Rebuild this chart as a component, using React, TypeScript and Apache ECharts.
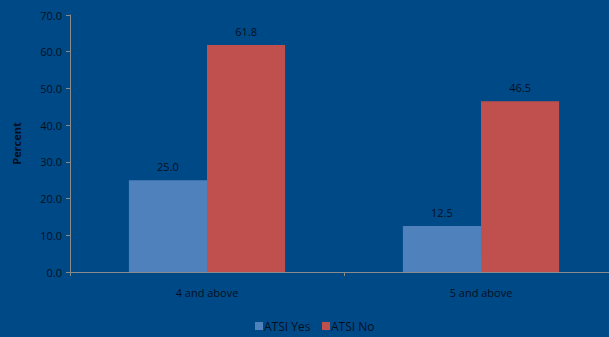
import React, { useEffect, useRef } from "react";
import * as echarts from "echarts";

const categories = ["4 and above", "5 and above"];
const atsiYes = [25.0, 12.5];
const atsiNo = [61.8, 46.5];
const seriesNames = ["ATSI Yes", "ATSI No"];

export default function App() {
  const ref = useRef<HTMLDivElement>(null);
  useEffect(() => {
    const chart = echarts.init(ref.current!, undefined, { renderer: "svg" });
    const font = "Open Sans";
    const txt = "#05101e";
    const legendBase = {
      top: 320,
      padding: 0,
      itemWidth: 8,
      itemHeight: 8,
      icon: "rect",
      textStyle: { color: txt, fontSize: 12, fontFamily: font, padding: [0, 0, 0, -4] },
    };
    chart.setOption({
      animation: false,
      backgroundColor: "#004987",
      textStyle: { fontFamily: font },
      grid: { left: 70, top: 15, width: 548, height: 257, outerBoundsMode: "none", containLabel: false },
      legend: [
        { ...legendBase, left: 255, data: [seriesNames[0]] },
        { ...legendBase, left: 322, data: [seriesNames[1]] },
      ],
      xAxis: {
        type: "category",
        data: categories,
        axisLine: { lineStyle: { color: "#8a8a8a" } },
        axisTick: { show: true, alignWithLabel: false, lineStyle: { color: "#8a8a8a" }, length: 4 },
        axisLabel: { color: txt, fontSize: 11, margin: 15, fontFamily: font },
      },
      yAxis: {
        type: "value",
        min: 0,
        max: 70,
        interval: 10,
        name: "Percent",
        nameLocation: "middle",
        nameGap: 48,
        nameRotate: 90,
        nameTextStyle: { color: txt, fontSize: 11, fontWeight: "bold", fontFamily: font },
        axisLine: { show: true, lineStyle: { color: "#8a8a8a" } },
        axisTick: { show: true, length: 4, lineStyle: { color: "#8a8a8a" } },
        splitLine: { show: false },
        axisLabel: {
          color: txt,
          fontSize: 11,
          fontFamily: font,
          margin: 8,
          formatter: (v: number) => v.toFixed(1),
        },
      },
      series: [
        {
          name: seriesNames[0],
          type: "bar",
          data: atsiYes,
          barGap: "0%",
          barCategoryGap: "43%",
          itemStyle: { color: "#4f81bd" },
          label: {
            show: true,
            position: "top",
            distance: 8,
            color: txt,
            fontSize: 11,
            fontFamily: font,
            formatter: (p: any) => p.value.toFixed(1),
          },
        },
        {
          name: seriesNames[1],
          type: "bar",
          data: atsiNo,
          itemStyle: { color: "#c0504d" },
          label: {
            show: true,
            position: "top",
            distance: 8,
            color: txt,
            fontSize: 11,
            fontFamily: font,
            formatter: (p: any) => p.value.toFixed(1),
          },
        },
      ],
    });
    return () => chart.dispose();
  }, []);
  return <div ref={ref} style={{ width: 609, height: 337, position: "absolute", left: 0, top: 0 }} />;
}
